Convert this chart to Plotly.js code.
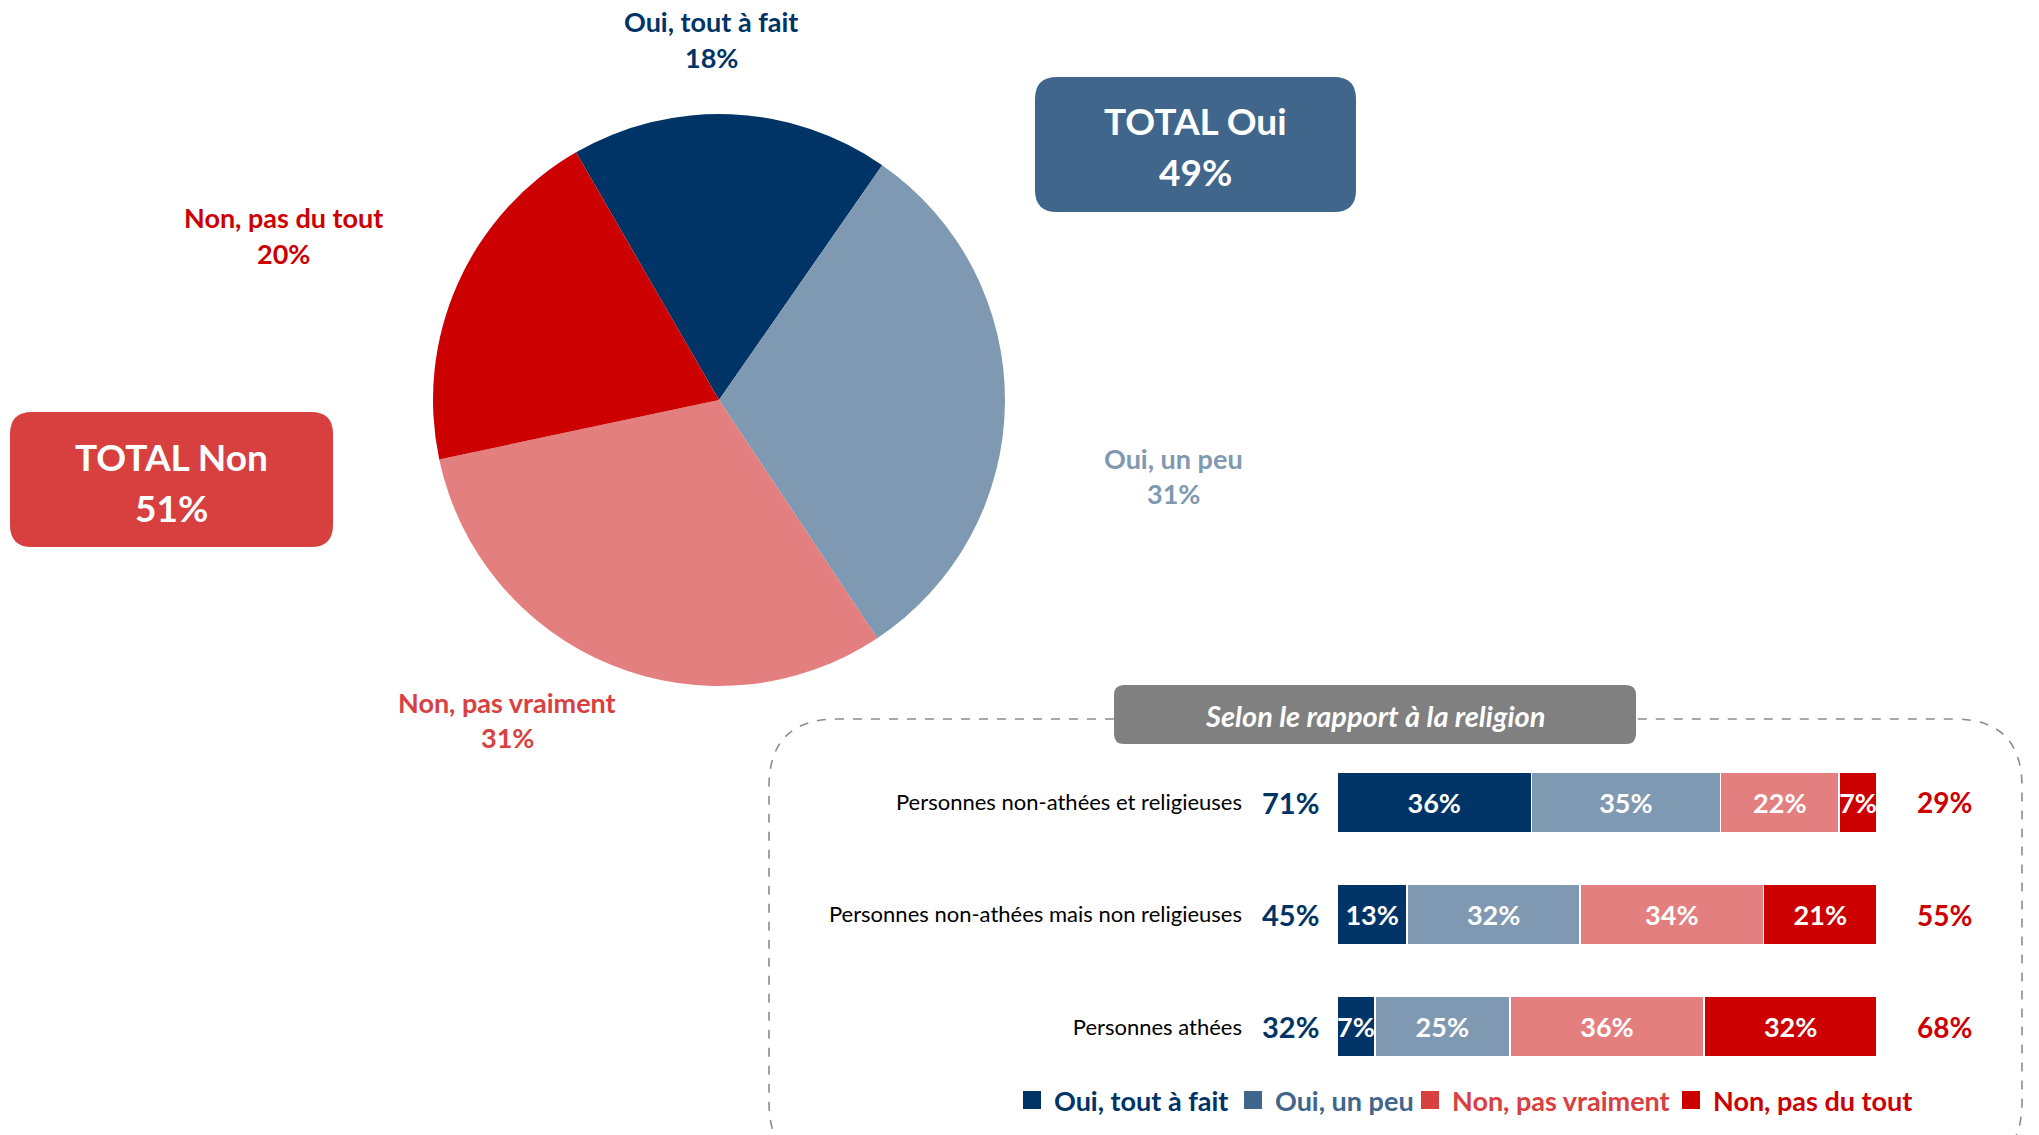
<!DOCTYPE html>
<html>
<head>
<meta charset="utf-8">
<script src="https://cdn.plot.ly/plotly-3.0.1.min.js"></script>
<style>html,body{margin:0;padding:0;background:#fff;}#chart{width:2039px;height:1135px;}</style>
</head>
<body>
<div id="chart"></div>
<script>
// ---------- DATA ----------
const pieLabels = ['Oui, tout à fait', 'Oui, un peu', 'Non, pas vraiment', 'Non, pas du tout'];
const pieValues = [18, 31, 31, 20];
const pieColors = ['#003366', '#7F99B2', '#E37F7F', '#CC0000'];
const pieLabelColors = ['#003366', '#7F99B2', '#D94040', '#CC0000'];

const totalOuiGlobal = 49;
const totalNonGlobal = 51;

const categories = [
  'Personnes non-athées et religieuses',
  'Personnes non-athées mais non religieuses',
  'Personnes athées'
];
const ouiToutAFait   = [36, 13, 7];
const ouiUnPeu       = [35, 32, 25];
const nonPasVraiment = [22, 34, 36];
const nonPasDuTout   = [7, 21, 32];
const totalOui = [71, 45, 32];
const totalNon = [29, 55, 68];

const legendLabels = ['Oui, tout à fait', 'Oui, un peu', 'Non, pas vraiment', 'Non, pas du tout'];
const legendColors = ['#003366', '#41668C', '#D94040', '#CC0000'];
const subtitle = 'Selon le rapport à la religion';

// ---------- LAYOUT HELPERS ----------
const W = 2039, H = 1135;
const px = x => x / W;
const py = y => 1 - y / H;
const FONT = 'Lato, "Open Sans", sans-serif';

function roundRect(x0, y0, x1, y1, r) {
  const p = (x, y) => px(x) + ',' + py(y);
  return 'M' + p(x0 + r, y0) + ' L' + p(x1 - r, y0) + ' Q' + p(x1, y0) + ' ' + p(x1, y0 + r) +
    ' L' + p(x1, y1 - r) + ' Q' + p(x1, y1) + ' ' + p(x1 - r, y1) +
    ' L' + p(x0 + r, y1) + ' Q' + p(x0, y1) + ' ' + p(x0, y1 - r) +
    ' L' + p(x0, y0 + r) + ' Q' + p(x0, y0) + ' ' + p(x0 + r, y0) + ' Z';
}
function dashedFrame(x0, y0, x1, y1, r, gapL, gapR) {
  const p = (x, y) => px(x) + ',' + py(y);
  return 'M' + p(gapL, y0) + ' L' + p(x0 + r, y0) + ' Q' + p(x0, y0) + ' ' + p(x0, y0 + r) +
    ' L' + p(x0, y1 - r) + ' Q' + p(x0, y1) + ' ' + p(x0 + r, y1) +
    ' L' + p(x1 - r, y1) + ' Q' + p(x1, y1) + ' ' + p(x1, y1 - r) +
    ' L' + p(x1, y0 + r) + ' Q' + p(x1, y0) + ' ' + p(x1 - r, y0) +
    ' L' + p(gapR, y0);
}

// ---------- TRACES ----------
const pieTrace = {
  type: 'pie',
  labels: pieLabels,
  values: pieValues,
  sort: false,
  direction: 'clockwise',
  rotation: -30,
  marker: { colors: pieColors, line: { width: 0 } },
  textinfo: 'none',
  hoverinfo: 'label+percent',
  showlegend: false,
  domain: { x: [px(433), px(1005)], y: [py(686), py(114)] }
};

const barSeries = [ouiToutAFait, ouiUnPeu, nonPasVraiment, nonPasDuTout];
const barTraces = barSeries.map((vals, i) => ({
  type: 'bar',
  orientation: 'h',
  name: legendLabels[i],
  x: vals,
  y: categories,
  marker: { color: pieColors[i], line: { color: '#ffffff', width: 1.5 } },
  text: vals.map(v => v + '%'),
  textposition: 'inside',
  insidetextanchor: 'middle',
  textangle: 0,
  constraintext: 'none',
  textfont: { family: FONT, size: 27, color: '#ffffff', weight: 'bold' },
  hoverinfo: 'x+y',
  showlegend: false,
  xaxis: 'x',
  yaxis: 'y'
}));

// ---------- ANNOTATIONS ----------
const annotations = [];
// pie labels
const pieLabelPos = [[711, 21, 57], [1173, 459, 494], [507, 702, 737], [283, 217, 254]];
pieLabels.forEach((lab, i) => {
  const [x, y1, y2] = pieLabelPos[i];
  annotations.push({ xref: 'paper', yref: 'paper', x: px(x), y: py(y1), text: '<b>' + lab + '</b>',
    showarrow: false, xanchor: 'center', yanchor: 'middle',
    font: { family: FONT, size: 27, color: pieLabelColors[i] } });
  annotations.push({ xref: 'paper', yref: 'paper', x: px(x), y: py(y2), text: '<b>' + pieValues[i] + '%</b>',
    showarrow: false, xanchor: 'center', yanchor: 'middle',
    font: { family: FONT, size: 27, color: pieLabelColors[i] } });
});
// total boxes
annotations.push({ xref: 'paper', yref: 'paper', x: px(1195), y: py(120),
  text: '<b>TOTAL Oui</b>', showarrow: false,
  xanchor: 'center', yanchor: 'middle', font: { family: FONT, size: 37, color: '#ffffff' } });
annotations.push({ xref: 'paper', yref: 'paper', x: px(1195), y: py(171),
  text: '<b>' + totalOuiGlobal + '%</b>', showarrow: false,
  xanchor: 'center', yanchor: 'middle', font: { family: FONT, size: 37, color: '#ffffff' } });
annotations.push({ xref: 'paper', yref: 'paper', x: px(171), y: py(456),
  text: '<b>TOTAL Non</b>', showarrow: false,
  xanchor: 'center', yanchor: 'middle', font: { family: FONT, size: 37, color: '#ffffff' } });
annotations.push({ xref: 'paper', yref: 'paper', x: px(171), y: py(507),
  text: '<b>' + totalNonGlobal + '%</b>', showarrow: false,
  xanchor: 'center', yanchor: 'middle', font: { family: FONT, size: 37, color: '#ffffff' } });
// subtitle
annotations.push({ xref: 'paper', yref: 'paper', x: px(1375), y: py(715),
  text: '<b><i>' + subtitle + '</i></b>', showarrow: false,
  xanchor: 'center', yanchor: 'middle', font: { family: FONT, size: 29, color: '#ffffff' } });
// totals beside bars
categories.forEach((c, i) => {
  annotations.push({ xref: 'paper', yref: 'y', x: px(1290), y: c, text: '<b>' + totalOui[i] + '%</b>',
    showarrow: false, xanchor: 'center', yanchor: 'middle',
    font: { family: FONT, size: 29, color: '#003366' } });
  annotations.push({ xref: 'paper', yref: 'y', x: px(1944), y: c, text: '<b>' + totalNon[i] + '%</b>',
    showarrow: false, xanchor: 'center', yanchor: 'middle',
    font: { family: FONT, size: 28, color: '#CC0000' } });
});
// legend
const legendX = [1023, 1244, 1421, 1682];
const shapes = [];
// dashed frame (drawn first, below boxes)
shapes.push({ type: 'path', xref: 'paper', yref: 'paper',
  path: dashedFrame(769, 719, 2022, 1170, 68, 1114, 1636),
  line: { color: '#8C8C8C', width: 1.6, dash: 'dash' } });
shapes.push({ type: 'path', xref: 'paper', yref: 'paper', path: roundRect(1114, 685, 1636, 744, 10),
  fillcolor: '#808080', line: { width: 0 } });
shapes.push({ type: 'path', xref: 'paper', yref: 'paper', path: roundRect(1035, 77, 1356, 212, 22),
  fillcolor: '#41668C', line: { width: 0 } });
shapes.push({ type: 'path', xref: 'paper', yref: 'paper', path: roundRect(10, 412, 333, 547, 22),
  fillcolor: '#D84040', line: { width: 0 } });

legendLabels.forEach((lab, i) => {
  const x = legendX[i];
  shapes.push({ type: 'rect', xref: 'paper', yref: 'paper',
    x0: px(x), x1: px(x + 18), y0: py(1109), y1: py(1091),
    fillcolor: legendColors[i], line: { width: 0 } });
  annotations.push({ xref: 'paper', yref: 'paper', x: px(x + 29), y: py(1100),
    text: '<b>' + lab + '</b>', showarrow: false, xanchor: 'left', yanchor: 'middle',
    font: { family: FONT, size: 27, color: legendColors[i] } });
});

const layout = {
  width: W, height: H,
  margin: { l: 0, r: 0, t: 0, b: 0, pad: 0 },
  paper_bgcolor: '#ffffff', plot_bgcolor: 'rgba(0,0,0,0)',
  barmode: 'stack',
  bargap: 0.46,
  showlegend: false,
  font: { family: FONT },
  xaxis: { domain: [px(1337), px(1877)], range: [0, 100], visible: false, fixedrange: true },
  yaxis: { domain: [py(1083), py(746)], type: 'category', categoryorder: 'array', categoryarray: categories,
    autorange: 'reversed', showgrid: false, zeroline: false, showline: false, ticks: '',
    ticklabelstandoff: 94,
    tickfont: { family: FONT, size: 22, color: '#000000' } },
  shapes: shapes,
  annotations: annotations
};

Plotly.newPlot('chart', [pieTrace].concat(barTraces), layout, { displayModeBar: false, staticPlot: true });
</script>
</body>
</html>
